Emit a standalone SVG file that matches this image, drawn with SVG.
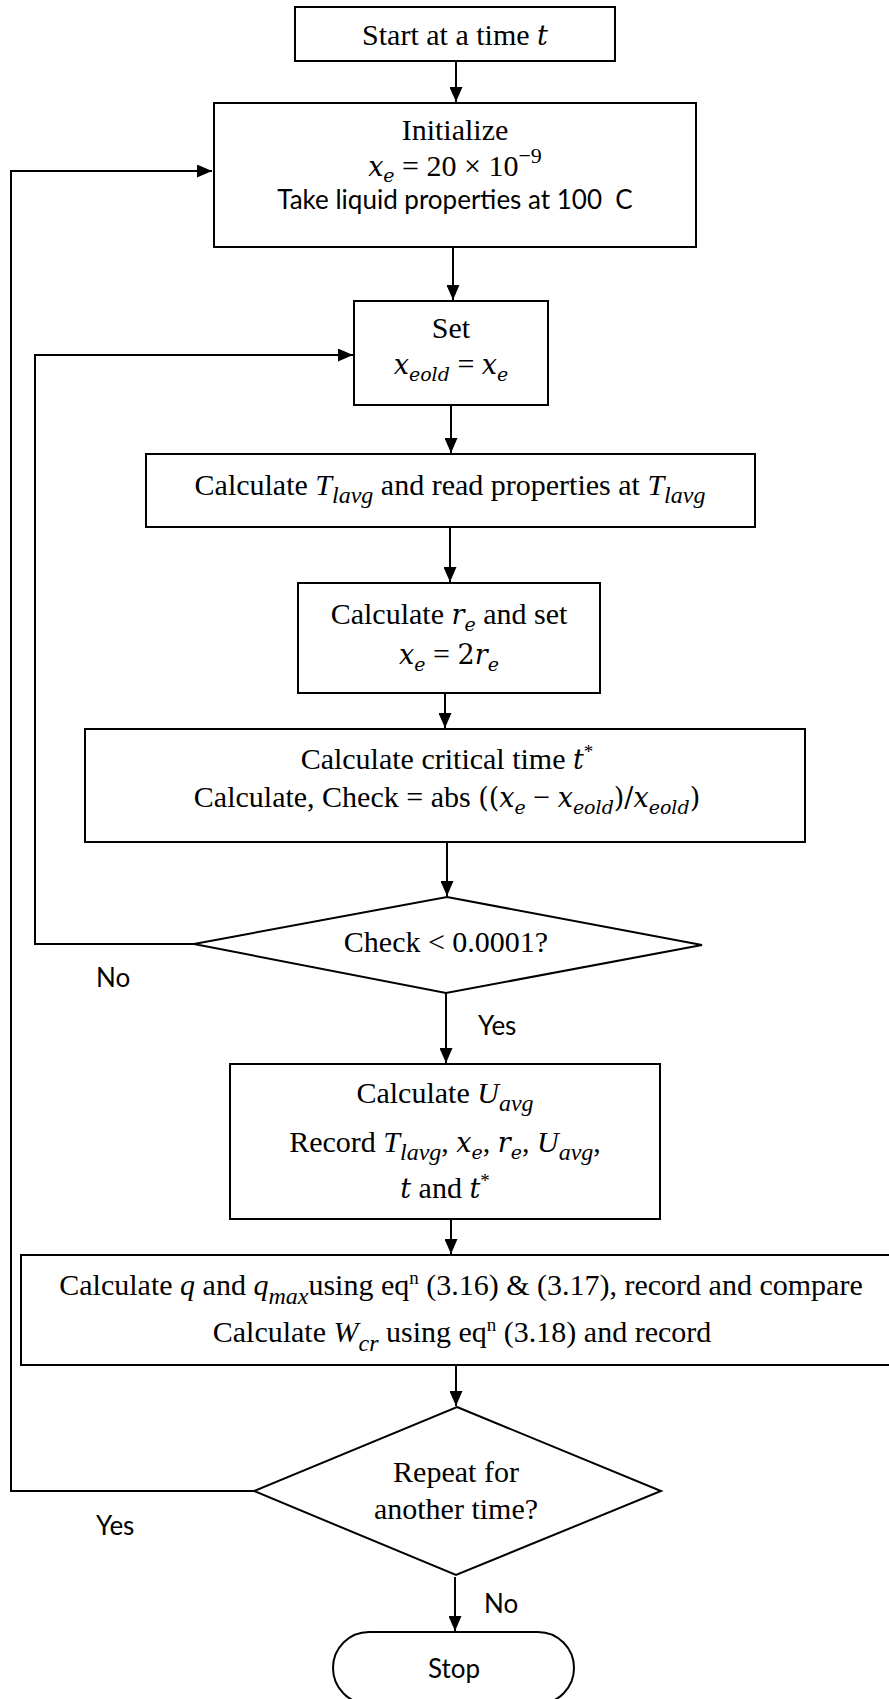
<svg xmlns="http://www.w3.org/2000/svg" width="889" height="1699" viewBox="0 0 889 1699">
<style>
.box{fill:#fff;stroke:#000;stroke-width:2}
.conn{fill:none;stroke:#000;stroke-width:2}
.t{font-family:"Liberation Serif","Times New Roman",serif;font-size:30px;text-anchor:middle;fill:#000}
.m{font-style:italic}
.sub{font-size:24px}
.sup{font-size:19px}
.c{font-family:"DejaVu Serif",serif;font-style:italic;font-size:27px}
.cs{font-family:"DejaVu Serif",serif;font-style:italic;font-size:19px}
.cu{font-family:"DejaVu Serif",serif;font-size:27px}
.s{font-family:Lato,"Open Sans",sans-serif;font-size:26px;fill:#000}
.mid{text-anchor:middle}
</style>
<defs>
<marker id="ah" markerUnits="userSpaceOnUse" markerWidth="15" markerHeight="13" refX="15" refY="6.5" orient="auto">
<path d="M0,0 L15,6.5 L0,13 z" fill="#000"/>
</marker>
</defs>
<rect width="889" height="1699" fill="#fff"/>
<g id="connectors">
<line class="conn" x1="456" y1="61" x2="456" y2="102" marker-end="url(#ah)"/>
<line class="conn" x1="453" y1="247" x2="453" y2="300" marker-end="url(#ah)"/>
<line class="conn" x1="451" y1="405" x2="451" y2="453" marker-end="url(#ah)"/>
<line class="conn" x1="450" y1="527" x2="450" y2="582" marker-end="url(#ah)"/>
<line class="conn" x1="445" y1="693" x2="445" y2="728" marker-end="url(#ah)"/>
<line class="conn" x1="447" y1="842" x2="447" y2="896" marker-end="url(#ah)"/>
<line class="conn" x1="446" y1="993" x2="446" y2="1063" marker-end="url(#ah)"/>
<line class="conn" x1="451" y1="1219" x2="451" y2="1254" marker-end="url(#ah)"/>
<line class="conn" x1="456" y1="1365" x2="456" y2="1406" marker-end="url(#ah)"/>
<line class="conn" x1="455" y1="1577" x2="455" y2="1631" marker-end="url(#ah)"/>
<polyline class="conn" points="194,944 35,944 35,355 353,355" marker-end="url(#ah)"/>
<polyline class="conn" points="254,1491 11,1491 11,171 212,171" marker-end="url(#ah)"/>
<text class="s" x="96" y="987">No</text>
<text class="s" x="478" y="1035">Yes</text>
<text class="s" x="96" y="1535">Yes</text>
<text class="s" x="484" y="1613">No</text>
</g>
<g id="start">
<rect class="box" x="295" y="7" width="320" height="54"/>
<text class="t" x="455" y="45">Start at a time <tspan class="c">t</tspan></text>
</g>
<g id="initialize">
<rect class="box" x="214" y="103" width="482" height="144"/>
<text class="t" x="455" y="140">Initialize</text>
<text class="t" x="455" y="176" font-size="34"><tspan class="c">x</tspan><tspan class="cs" baseline-shift="-6">e</tspan> = 20 × 10<tspan font-size="22" baseline-shift="13">−9</tspan></text>
<text class="s mid" x="455" y="209" font-size="27.5">Take liquid properties at 100&#160; C</text>
</g>
<g id="set">
<rect class="box" x="354" y="301" width="194" height="104"/>
<text class="t" x="451" y="338">Set</text>
<text class="t" x="451" y="374"><tspan class="c">x</tspan><tspan class="cs" baseline-shift="-7">eold</tspan> = <tspan class="c">x</tspan><tspan class="cs" baseline-shift="-7">e</tspan></text>
</g>
<g id="calc-tlavg">
<rect class="box" x="146" y="454" width="609" height="73"/>
<text class="t" x="450" y="495">Calculate <tspan class="m">T</tspan><tspan class="sub m" baseline-shift="-8">lavg</tspan> and read properties at <tspan class="m">T</tspan><tspan class="sub m" baseline-shift="-8">lavg</tspan></text>
</g>
<g id="calc-re">
<rect class="box" x="298" y="583" width="302" height="110"/>
<text class="t" x="449" y="624">Calculate <tspan class="c">r</tspan><tspan class="cs" baseline-shift="-7">e</tspan> and set</text>
<text class="t" x="449" y="664"><tspan class="c">x</tspan><tspan class="cs" baseline-shift="-7">e</tspan> = <tspan class="cu">2</tspan><tspan class="c">r</tspan><tspan class="cs" baseline-shift="-7">e</tspan></text>
</g>
<g id="calc-critical">
<rect class="box" x="85" y="729" width="720" height="113"/>
<text class="t" x="447" y="769">Calculate critical time <tspan class="c">t</tspan><tspan class="sup" baseline-shift="11">*</tspan></text>
<text class="t" x="447" y="807">Calculate, Check = abs <tspan class="cu">((</tspan><tspan class="c">x</tspan><tspan class="cs" baseline-shift="-7">e</tspan> − <tspan class="c">x</tspan><tspan class="cs" baseline-shift="-7">eold</tspan><tspan class="cu">)/</tspan><tspan class="c">x</tspan><tspan class="cs" baseline-shift="-7">eold</tspan><tspan class="cu">)</tspan></text>
</g>
<g id="check">
<polygon class="box" points="447,897 702,945 446,993 194,944"/>
<text class="t" x="446" y="952" font-size="31">Check &lt; 0.0001?</text>
</g>
<g id="calc-uavg">
<rect class="box" x="230" y="1064" width="430" height="155"/>
<text class="t" x="445" y="1103">Calculate <tspan class="m">U</tspan><tspan class="sub m" baseline-shift="-8">avg</tspan></text>
<text class="t" x="445" y="1152">Record <tspan class="m">T</tspan><tspan class="sub m" baseline-shift="-8">lavg</tspan>, <tspan class="c">x</tspan><tspan class="cs" baseline-shift="-7">e</tspan>, <tspan class="c">r</tspan><tspan class="cs" baseline-shift="-7">e</tspan>, <tspan class="m">U</tspan><tspan class="sub m" baseline-shift="-8">avg</tspan>,</text>
<text class="t" x="445" y="1198"><tspan class="c">t</tspan> and <tspan class="c">t</tspan><tspan class="sup" baseline-shift="11">*</tspan></text>
</g>
<g id="calc-q">
<rect class="box" x="21" y="1255" width="900" height="110"/>
<text class="t" x="461" y="1295">Calculate <tspan class="m">q</tspan> and <tspan class="m">q</tspan><tspan class="sub m" baseline-shift="-9">max</tspan>using eq<tspan class="sup" baseline-shift="11">n</tspan> (3.16) &amp; (3.17), record and compare</text>
<text class="t" x="462" y="1342">Calculate <tspan class="m">W</tspan><tspan class="sub m" baseline-shift="-9">cr</tspan> using eq<tspan class="sup" baseline-shift="11">n</tspan> (3.18) and record</text>
</g>
<g id="repeat">
<polygon class="box" points="457,1407 661,1491 456,1575 254,1491"/>
<text class="t" x="456" y="1482" font-size="32">Repeat for</text>
<text class="t" x="456" y="1519" font-size="32">another time?</text>
</g>
<g id="stop">
<rect class="box" x="333" y="1632" width="241" height="72" rx="36" ry="36"/>
<text class="s mid" x="454" y="1678" font-size="27">Stop</text>
</g>
</svg>
